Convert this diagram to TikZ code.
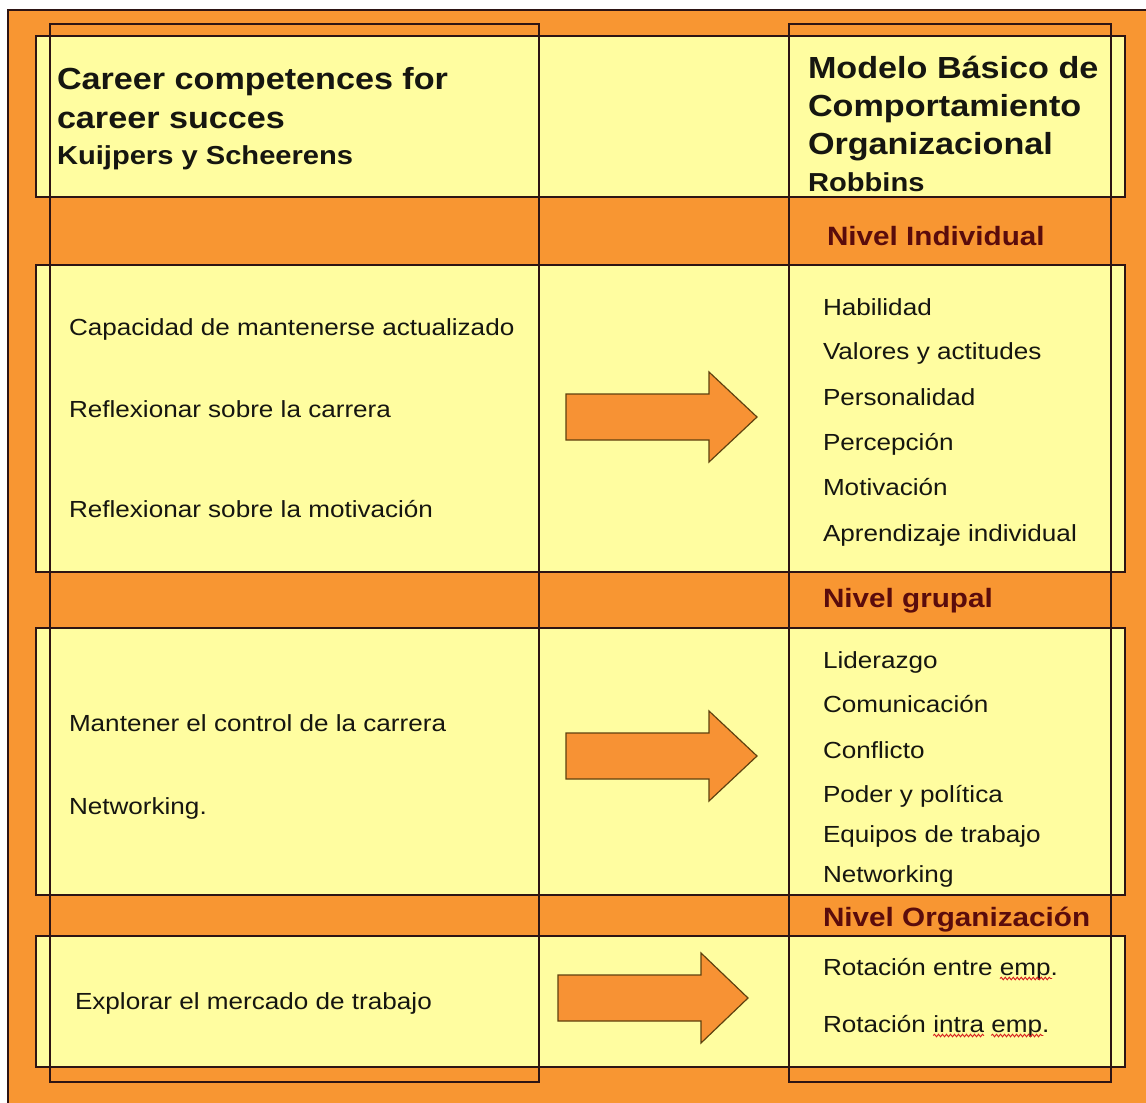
\documentclass[tikz,border=0pt]{standalone}
\usepackage{fontspec}
\setmainfont{Liberation Sans}
\usetikzlibrary{decorations.pathmorphing}

\definecolor{bandorange}{RGB}{248,150,50}
\definecolor{rowyellow}{RGB}{255,253,160}
\definecolor{arroworange}{RGB}{247,146,52}
\definecolor{arrowedge}{RGB}{95,65,15}
\definecolor{framedark}{RGB}{45,20,20}
\definecolor{inkdark}{RGB}{22,22,16}
\definecolor{levelred}{RGB}{90,12,12}
\definecolor{spellred}{RGB}{215,30,30}

\newcommand\pxfont[1]{\fontsize{#1}{#1}\selectfont}

\begin{document}
\begin{tikzpicture}[x=1pt,y=-1pt,
  rowbox/.style={fill=rowyellow, draw=framedark, line width=1.4pt},
  colframe/.style={draw=framedark, line width=1.4pt},
  txt/.style={anchor=base west, inner sep=0pt, outer sep=0pt, xscale=1.12, text=inkdark},
  head/.style={txt, font=\pxfont{30.5}\bfseries},
  sub/.style={txt, font=\pxfont{26}\bfseries},
  level/.style={txt, font=\pxfont{26.5}\bfseries, text=levelred},
  item/.style={txt, font=\pxfont{23.3}},
  squig/.style={draw=spellred, line width=0.9pt, decorate,
    decoration={snake, amplitude=1.3pt, segment length=4pt}},
  arrowfill/.style={fill=arroworange, draw=arrowedge, line width=1.2pt, line join=miter},
  pics/blockarrow/.style={code={
    \path[arrowfill] (0,-23) -- (143,-23) -- (143,-45) -- (#1,0)
      -- (143,45) -- (143,23) -- (0,23) -- cycle;}},
]

% page and orange frame
\fill[white] (0,0) rectangle (1146,1103);
\useasboundingbox (0,0) rectangle (1146,1103);
\fill[bandorange] (8,10) rectangle (1146,1103);
\draw[framedark, line width=1.2pt] (8,1103) -- (8,10) -- (1146,10);

% yellow rows
\path[rowbox] (36,36)  rectangle (1125,197);
\path[rowbox] (36,265) rectangle (1125,572);
\path[rowbox] (36,628) rectangle (1125,895);
\path[rowbox] (36,936) rectangle (1125,1067);

% column frames
\path[colframe] (50,24)  rectangle (539,1082);
\path[colframe] (789,24) rectangle (1111,1082);

% headers
\node[head] (hl1) at (57,89)  {Career competences for};
\node[head] (hl2) at (57,128) {career succes};
\node[sub]  (hl3) at (57,164) {Kuijpers y Scheerens};

\node[head] (hr1) at (808,78)  {Modelo Básico de};
\node[head] (hr2) at (808,116) {Comportamiento};
\node[head] (hr3) at (808,154) {Organizacional};
\node[sub]  (hr4) at (808,191) {Robbins};

% level labels
\node[level] (lvInd) at (827,245) {Nivel Individual};
\node[level] (lvGrp) at (823,607) {Nivel grupal};
\node[level] (lvOrg) at (823,926) {Nivel Organización};

% individual level
\node[item] (l1) at (69,335) {Capacidad de mantenerse actualizado};
\node[item] (l2) at (69,417) {Reflexionar sobre la carrera};
\node[item] (l3) at (69,517) {Reflexionar sobre la motivación};

\node[item] (r1) at (823,315) {Habilidad};
\node[item] (r2) at (823,359) {Valores y actitudes};
\node[item] (r3) at (823,405) {Personalidad};
\node[item] (r4) at (823,450) {Percepción};
\node[item] (r5) at (823,495) {Motivación};
\node[item] (r6) at (823,541) {Aprendizaje individual};

% group level
\node[item] (l4) at (69,731) {Mantener el control de la carrera};
\node[item] (l5) at (69,814) {Networking.};

\node[item] (r7)  at (823,668) {Liderazgo};
\node[item] (r8)  at (823,712) {Comunicación};
\node[item] (r9)  at (823,758) {Conflicto};
\node[item] (r10) at (823,802) {Poder y política};
\node[item] (r11) at (823,842) {Equipos de trabajo};
\node[item] (r12) at (823,882) {Networking};

% organisation level
\node[item] (l6) at (75,1009) {Explorar el mercado de trabajo};

\node[item] (rotA) at (823,975) {Rotación entre};
\node[item] (empA) at ([xshift=7.25pt]rotA.base east) {emp.};
\node[item] (rotB) at (823,1032) {Rotación};
\node[item] (intraB) at ([xshift=7.25pt]rotB.base east) {intra};
\node[item] (empB) at ([xshift=7.25pt]intraB.base east) {emp.};

% spelling marks
\path[squig] ([yshift=-3.5pt]empA.base west) -- ([xshift=-6pt,yshift=-3.5pt]empA.base east);
\path[squig] ([yshift=-3.5pt]intraB.base west) -- ([yshift=-3.5pt]intraB.base east);
\path[squig] ([yshift=-3.5pt]empB.base west) -- ([xshift=-6pt,yshift=-3.5pt]empB.base east);

% block arrows between the columns
\pic (arInd) at (566,417) {blockarrow=191};
\pic (arGrp) at (566,756) {blockarrow=191};
\pic (arOrg) at (558,998) {blockarrow=190};

\end{tikzpicture}
\end{document}
